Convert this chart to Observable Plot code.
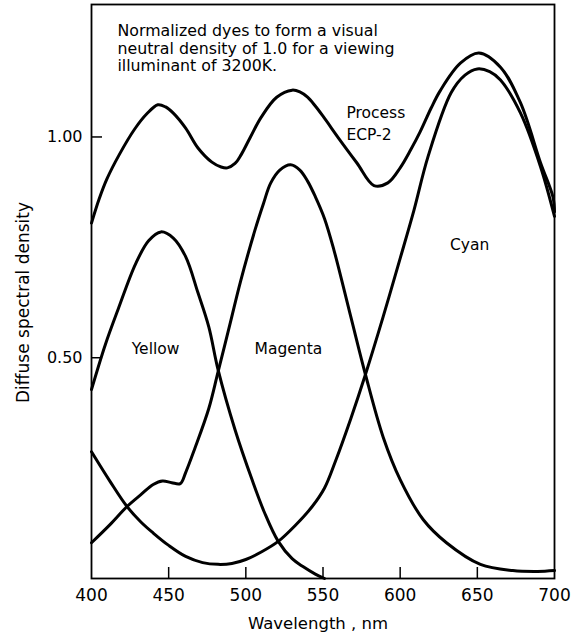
<!DOCTYPE html>
<html>
<head>
<meta charset="utf-8">
<script src="https://cdn.jsdelivr.net/npm/d3@7"></script>
<script src="https://cdn.jsdelivr.net/npm/@observablehq/plot@0.6"></script>
<style>
  html, body { margin: 0; padding: 0; background: #fff; }
  #chart { width: 576px; height: 634px; }
</style>
</head>
<body>
<div id="chart"></div>
<script>
// ---- data ----
const xTicks = [400, 450, 500, 550, 600, 650, 700];
const yTicks = [0.5, 1.0];

const processECP2 = [
  [400,0.805],[405,0.86],[410,0.905],[418,0.96],[428,1.018],[436,1.053],[443,1.073],[448,1.068],
  [453,1.054],[461,1.02],[469,0.975],[478,0.943],[484,0.932],[488,0.93],[493,0.94],[497,0.96],
  [503,1.0],[510,1.045],[520,1.09],[530,1.106],[535,1.102],[540,1.09],[545,1.07],[550,1.047],
  [561,0.993],[572,0.941],[583,0.89],[592,0.896],[600,0.93],[607,0.972],[613,1.012],[620,1.065],
  [626,1.105],[639,1.167],[651,1.19],[665,1.158],[678,1.077],[691,0.941],[699,0.864],[700,0.83]
];
const yellow = [
  [400,0.428],[409,0.53],[417.5,0.612],[428.5,0.712],[437,0.765],[445,0.785],[453,0.771],[461,0.729],
  [469,0.647],[476,0.57],[482,0.473],[493,0.337],[504,0.224],[512,0.15],[521,0.084],[530,0.045],
  [537,0.027],[545,0.01],[551,0.0]
];
const magenta = [
  [400,0.081],[412,0.122],[423,0.163],[432,0.19],[440,0.213],[446,0.221],[452,0.217],[457.5,0.215],
  [461,0.24],[467,0.295],[476,0.385],[482,0.468],[490,0.58],[496.5,0.672],[506,0.79],[511.5,0.85],
  [516,0.895],[522,0.925],[529,0.937],[535,0.925],[540,0.9],[545,0.865],[551,0.815],[557,0.745],
  [568,0.593],[577.5,0.462],[589,0.32],[600,0.224],[615,0.133],[630,0.081],[652,0.032],[673,0.018],
  [689,0.016],[700,0.018]
];
const cyan = [
  [400,0.287],[412,0.22],[423,0.163],[432,0.128],[440,0.103],[450,0.075],[461,0.05],[472,0.036],
  [482,0.032],[491,0.034],[500,0.043],[510,0.06],[521,0.084],[532,0.12],[543,0.163],[551,0.205],
  [558,0.265],[568,0.362],[577.5,0.462],[589,0.593],[600,0.725],[609,0.835],[618,0.955],[633,1.10],
  [642,1.14],[650,1.154],[658,1.148],[665,1.129],[678,1.054],[691,0.932],[700,0.82]
];

const note = "Normalized dyes to form a visual\nneutral density of 1.0 for a viewing\nilluminant of 3200K.";
const seriesLabels = ["Yellow", "Magenta", "Cyan", "Process\nECP-2"];

// ---- chart ----
const W = 576, H = 634;
const mL = 91, mR = 22, mT = 4, mB = 56;
const innerW = W - mL - mR, innerH = H - mT - mB;
const font = "'DejaVu Sans', Verdana, sans-serif";

const line = (data) => Plot.line(data, {
  x: d => d[0], y: d => d[1], curve: "catmull-rom",
  stroke: "black", strokeWidth: 3, strokeLinejoin: "round", strokeLinecap: "round"
});

const chart = Plot.plot({
  width: W, height: H,
  marginLeft: mL, marginRight: mR, marginTop: mT, marginBottom: mB,
  style: { fontFamily: font, color: "black", background: "white" },
  x: { domain: [400, 700], axis: null },
  y: { domain: [0, 1.3], axis: null },
  marks: [
    // axes tick labels
    Plot.axisX(xTicks, { tickSize: 0, tickPadding: 10, fontSize: 17, label: null }),
    Plot.axisY(yTicks, { tickSize: 0, tickPadding: 9, fontSize: 16, tickFormat: d3.format(".2f"), label: null }),
    // inward ticks
    Plot.tickX(xTicks.slice(1, -1), { x: d => d, insetTop: innerH - 11, stroke: "black", strokeWidth: 1.5 }),
    Plot.tickY(yTicks, { y: d => d, insetRight: innerW - 11, stroke: "black", strokeWidth: 1.5 }),
    Plot.frame({ stroke: "black", strokeWidth: 1.8 }),
    // curves
    line(processECP2),
    line(yellow),
    line(magenta),
    line(cyan),
    // labels
    Plot.text([note], { x: 416.8, y: 1.256, text: d => d, textAnchor: "start", lineAnchor: "top", fontSize: 15.8, lineHeight: 1.1 }),
    Plot.text([seriesLabels[3]], { x: 565.2, y: 1.077, text: d => d, textAnchor: "start", lineAnchor: "top", fontSize: 15.5, lineHeight: 1.4 }),
    Plot.text([seriesLabels[0]], { x: 441.5, y: 0.52, text: d => d, fontSize: 15.5 }),
    Plot.text([seriesLabels[1]], { x: 527.6, y: 0.52, text: d => d, fontSize: 15.5 }),
    Plot.text([seriesLabels[2]], { x: 645, y: 0.755, text: d => d, fontSize: 15.5 }),
    // axis titles
    Plot.text(["Wavelength , nm"], { frameAnchor: "bottom", dx: -5, dy: 50, lineAnchor: "bottom", text: d => d, fontSize: 16.5 }),
    Plot.text(["Diffuse spectral density"], { frameAnchor: "left", textAnchor: "middle", dx: -68, dy: 11, rotate: -90, text: d => d, fontSize: 17 })
  ]
});
document.getElementById("chart").appendChild(chart);
</script>
</body>
</html>
